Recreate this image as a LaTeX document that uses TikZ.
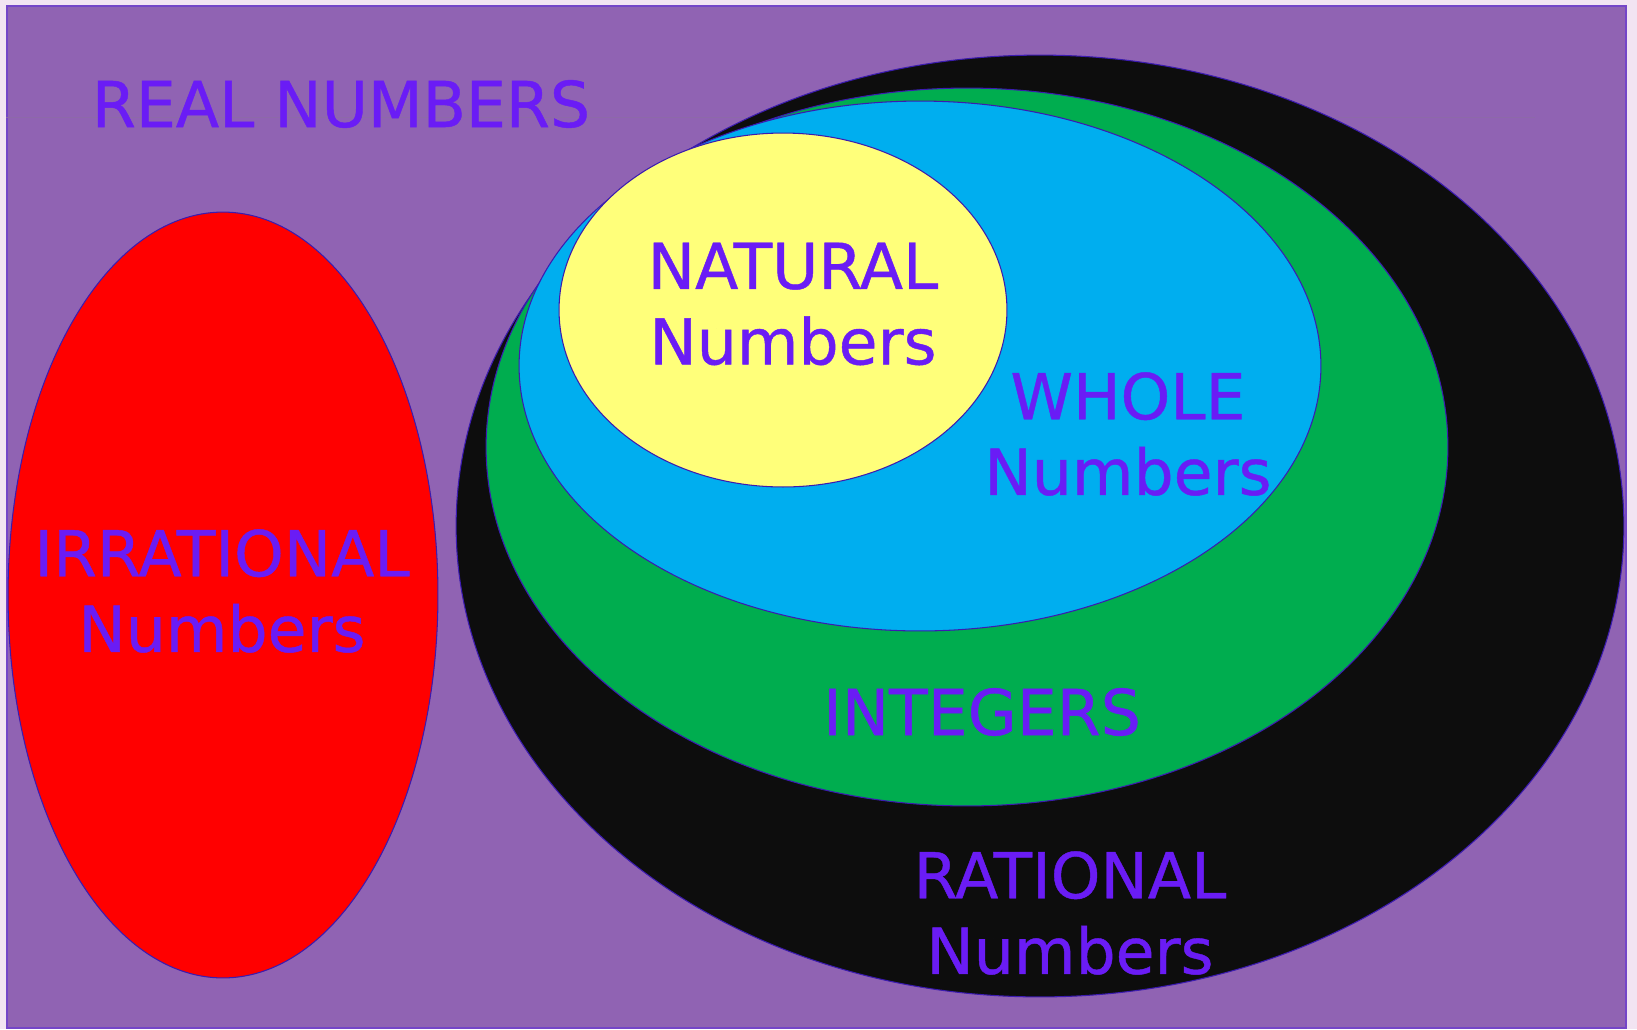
\documentclass[tikz,border=0pt]{standalone}
\usepackage{fontspec}
\setmainfont{DejaVu Sans}
\newfontfamily\setfont[FakeBold=0.7]{DejaVu Sans}
\usetikzlibrary{shapes.geometric, positioning}
\definecolor{pagebg}{HTML}{F2E4F2}
\definecolor{realbg}{HTML}{9063B3}
\definecolor{realedge}{HTML}{7445C8}
\definecolor{labeltext}{HTML}{6A1CF5}
\definecolor{irrfill}{HTML}{FF0000}
\definecolor{ratfill}{HTML}{0D0D0D}
\definecolor{intfill}{HTML}{00AD4F}
\definecolor{wholefill}{HTML}{00AEEF}
\definecolor{natfill}{HTML}{FFFF7A}
\definecolor{setedge}{HTML}{3B1BB0}
\tikzset{
    setblob/.style={
        ellipse, draw=setedge, line width=0.6pt, inner sep=0pt
    },
    setlabel/.style={
        text=labeltext, align=center, inner sep=0pt,
        font=\setfont\fontsize{36}{43}\selectfont
    }
}

\begin{document}
\begin{tikzpicture}[x=0.02cm, y=-0.02cm]
    \useasboundingbox[fill=pagebg] (0,0) rectangle (1637,1029);
    \node[rectangle, draw=realedge, fill=realbg, line width=1.2pt, anchor=north west,
          minimum width=32.38cm, minimum height=20.44cm] (real) at (6,5) {};
    \draw[realbg!80!gray, thin] (real.west |- 0,117) -- (1535,117);

    % the rationals and their subsets
    \node[setblob, fill=ratfill, minimum width=23.36cm, minimum height=18.84cm] (rational) at (1040,526) {};
    \node[setblob, fill=intfill, minimum width=19.24cm, minimum height=14.36cm] (integer) at (967,447) {};
    \node[setblob, fill=wholefill, minimum width=16.04cm, minimum height=10.6cm] (whole) at (920,366) {};
    \node[setblob, fill=natfill, minimum width=8.96cm, minimum height=7.08cm] (natural) at (783,310) {};

    \node[setblob, fill=irrfill, minimum width=8.6cm, minimum height=15.32cm] (irrational) at (223,595) {};

    \node[setlabel] (realtxt) at (341,104) {REAL NUMBERS};
    \node[setlabel] (naturaltxt) at (793,304) {NATURAL\\Numbers};
    \node[setlabel] (wholetxt) at (1128,434) {WHOLE\\Numbers};
    \node[setlabel] (integertxt) at (982,712) {INTEGERS};
    \node[setlabel] (rationaltxt) at (1070,913) {RATIONAL\\Numbers};
    \node[setlabel] (irrationaltxt) at (222,591) {IRRATIONAL\\Numbers};
  \end{tikzpicture}
\end{document}
